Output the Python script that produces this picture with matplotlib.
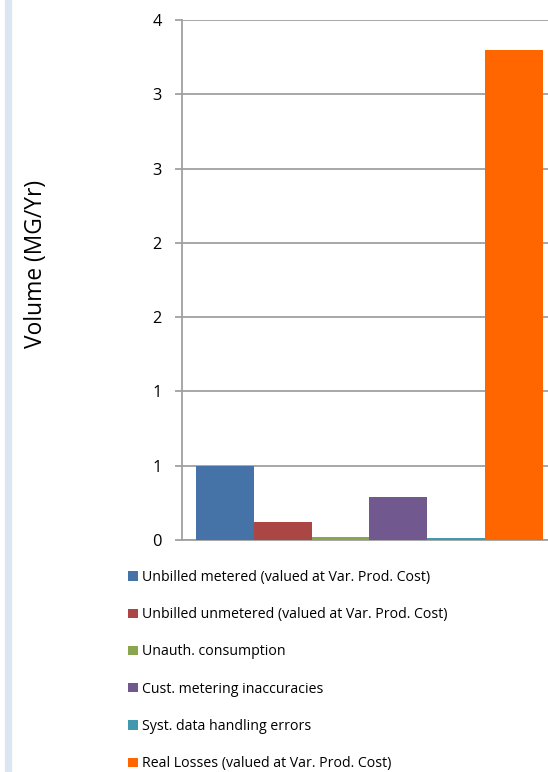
import matplotlib
matplotlib.use("Agg")
import matplotlib.pyplot as plt
from matplotlib.patches import Patch, Rectangle

categories = [
    "Unbilled metered (valued at Var. Prod. Cost)",
    "Unbilled unmetered (valued at Var. Prod. Cost)",
    "Unauth. consumption",
    "Cust. metering inaccuracies",
    "Syst. data handling errors",
    "Real Losses (valued at Var. Prod. Cost)",
]
values = [0.5, 0.12, 0.02, 0.29, 0.013, 3.3]
colors = ["#4572A7", "#AA4643", "#89A54E", "#71588F", "#4198AF", "#FF6600"]
yticks = [0, 0.5, 1.0, 1.5, 2.0, 2.5, 3.0, 3.5]
ytick_labels = ["0", "1", "1", "2", "2", "3", "3", "4"]

plt.rcParams['font.family'] = ['Open Sans', 'DejaVu Sans']

W, H = 548, 772
fig = plt.figure(figsize=(W / 100, H / 100), dpi=100)
fig.patches.append(Rectangle((5 / W, 0), 6 / W, 1, transform=fig.transFigure,
                             color="#dce6f2", zorder=0))

ax = fig.add_axes([182 / W, 1 - 540 / H, (557 - 182) / W, 520 / H])
n = len(values)
xs = list(range(n))
for x, v, c, lab in zip(xs, values, colors, categories):
    ax.bar(x, v, width=1.0, color=c, label=lab, zorder=3)
gap = 14 / 58
ax.set_xlim(-0.5 - gap, n - 0.5 + gap)
ax.set_ylim(0, 3.5)
ax.set_yticks(yticks)
ax.set_yticklabels(ytick_labels, fontsize=11.8)
ax.set_xticks([])
ax.grid(axis="y", color="#a0a0a0", linewidth=1.3, zorder=0)
for s in ["top", "right"]:
    ax.spines[s].set_visible(False)
for s in ["left", "bottom"]:
    ax.spines[s].set_color("#a0a0a0")
    ax.spines[s].set_linewidth(1.3)
ax.tick_params(axis="y", length=5, width=1.3, color="#a0a0a0", pad=9.5)

fig.text(36 / W, 1 - 264 / H, "Volume (MG/Yr)", rotation=90,
         ha="center", va="center", fontsize=16.4)

handles = [Patch(facecolor=c, edgecolor="none") for c in colors]
fig.legend(handles, categories, loc="upper left",
           bbox_to_anchor=(128 / W, 1 - 570 / H), frameon=False,
           fontsize=10.2, handlelength=0.7, handleheight=0.63,
           handletextpad=0.28, labelspacing=1.57, borderaxespad=0,
           borderpad=0)

fig.savefig("out.png", dpi=100)
